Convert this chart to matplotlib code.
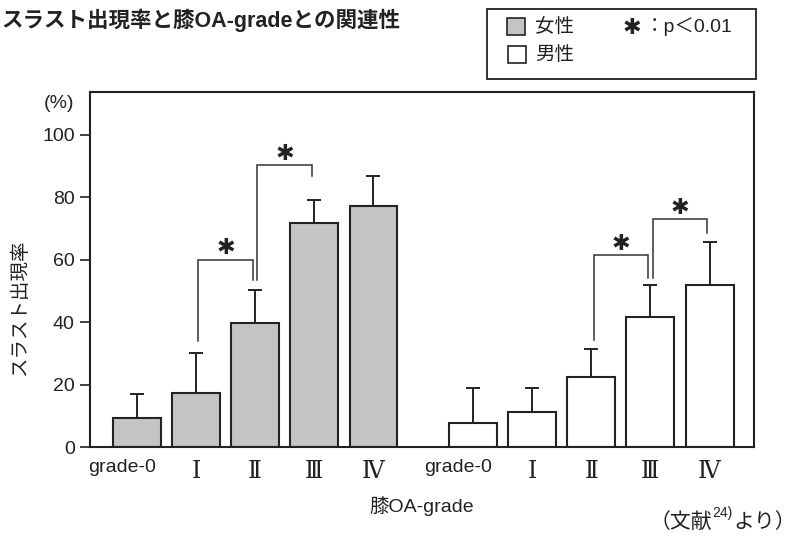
import matplotlib
matplotlib.use('Agg')
import matplotlib.pyplot as plt
from matplotlib.patches import Rectangle
from matplotlib.text import Annotation
import matplotlib.transforms as mtransforms
import numpy as np

plt.rcParams['font.family'] = ['Liberation Sans', 'Noto Sans CJK JP', 'DejaVu Sans']

# ---------------- data ----------------
grades = ['grade-0', 'Ⅰ', 'Ⅱ', 'Ⅲ', 'Ⅳ']
female_rate = [9.3, 17.2, 39.6, 71.9, 77.3]
female_err = [7.7, 12.8, 10.6, 7.3, 9.4]
male_rate = [7.6, 11.1, 22.5, 41.6, 51.8]
male_err = [11.2, 7.7, 8.8, 10.3, 13.7]
# significance brackets: (bar i, bar j, left leg bottom, top, right leg bottom)
female_sig = [(1, 2, 34.0, 60.0, 53.4), (2, 3, 53.4, 90.4, 86.7)]
male_sig = [(2, 3, 34.4, 61.4, 54.2), (3, 4, 54.2, 72.9, 68.5)]
yticks = [0, 20, 40, 60, 80, 100]

W, H = 801, 538
fig = plt.figure(figsize=(W / 100, H / 100), dpi=100)
ax = fig.add_axes([90 / W, 1 - 447 / H, (754 - 90) / W, (447 - 92) / H])

ink = '#222222'
fcol = '#c4c4c4'
STAR = '✱'

fx = np.arange(5)
mx = 5.68 + np.arange(5)
bw = 0.81

ax.bar(fx, female_rate, width=bw, color=fcol, edgecolor=ink, linewidth=1.5, zorder=2)
ax.bar(mx, male_rate, width=bw, color='white', edgecolor=ink, linewidth=1.5, zorder=2)
ax.errorbar(fx, female_rate, yerr=[np.zeros(5), female_err], fmt='none',
            ecolor=ink, elinewidth=1.4, capsize=4.8, capthick=1.4, zorder=1)
ax.errorbar(mx, male_rate, yerr=[np.zeros(5), male_err], fmt='none',
            ecolor=ink, elinewidth=1.4, capsize=4.8, capthick=1.4, zorder=1)

def bracket(xs, sig):
    for i, j, yl, yt, yr in sig:
        x0 = xs[i] + 0.04
        x1 = xs[j] - 0.04
        ax.plot([x0, x0, x1, x1], [yl, yt, yt, yr], color='#333333', lw=1.1,
                solid_joinstyle='miter', zorder=3)
        ax.text((x0 + x1) / 2, yt + 3.6, STAR, ha='center', va='center',
                fontsize=16, color=ink, family=['DejaVu Sans'])

bracket(fx, female_sig)
bracket(mx, male_sig)

ax.set_xlim(-0.79, 10.43)
ax.set_ylim(0, 113.7)
ax.set_yticks(yticks)
ax.set_yticklabels([str(v) for v in yticks], fontsize=14, color=ink)
ax.tick_params(axis='y', direction='out', length=7, width=1.2, color=ink, pad=4)
ax.set_xticks(list(fx) + list(mx))
ax.set_xticklabels(grades + grades, fontsize=14, color=ink)
ax.tick_params(axis='x', length=0, pad=9)
shift = mtransforms.ScaledTranslation(-15 / 100, 0, fig.dpi_scale_trans)
for lab in ax.get_xticklabels():
    if lab.get_text() == 'grade-0':
        lab.set_transform(lab.get_transform() + shift)
    else:
        lab.set_family(['DejaVu Serif', 'Noto Sans CJK JP'])
        lab.set_fontsize(17)
for sp in ax.spines.values():
    sp.set_linewidth(1.5)
    sp.set_color(ink)

# axis texts
fig.text(59 / W, 1 - 104 / H, '(%)', ha='center', va='center', fontsize=14, color=ink)
fig.text(20 / W, 1 - 308 / H, 'スラスト出現率', rotation=90, ha='center', va='center',
         fontsize=14, color=ink)
fig.text(422 / W, 1 - 506 / H, '膝OA-grade', ha='center', va='center', fontsize=14, color=ink)

# source note with superscript reference number
t1 = fig.text(650 / W, 1 - 528 / H, '（文献', ha='left', va='baseline', fontsize=15, color=ink)
t2 = fig.add_artist(Annotation('24)', xy=(1, 0.62), xycoords=t1, ha='left', va='bottom',
                               fontsize=10, color=ink))
t3 = fig.add_artist(Annotation('より）', xy=(1, 0), xycoords=(t2, t1), ha='left', va='bottom',
                               fontsize=15, color=ink))

# title
fig.text(1 / W, 1 - 20 / H, 'スラスト出現率と膝OA-gradeとの関連性', ha='left', va='center',
         fontsize=15.5, fontweight='bold', color=ink)

# legend box
fig.patches.append(Rectangle((487 / W, 1 - 79 / H), (756 - 487) / W, 70 / H,
                             transform=fig.transFigure, fill=False, edgecolor=ink, lw=1.3))
fig.patches.append(Rectangle((507 / W, 1 - 35 / H), 18 / W, 17 / H,
                             transform=fig.transFigure, facecolor=fcol, edgecolor=ink, lw=1.2))
fig.patches.append(Rectangle((508 / W, 1 - 63 / H), 18 / W, 17 / H,
                             transform=fig.transFigure, facecolor='white', edgecolor=ink, lw=1.2))
fig.text(535 / W, 1 - 27 / H, '女性', ha='left', va='center', fontsize=14, color=ink)
fig.text(535 / W, 1 - 55 / H, '男性', ha='left', va='center', fontsize=14, color=ink)
fig.text(632 / W, 1 - 28 / H, STAR, ha='center', va='center', fontsize=16, color=ink,
         family=['DejaVu Sans'])
fig.text(645 / W, 1 - 27 / H, '：p＜0.01', ha='left', va='center', fontsize=14, color=ink,
         family=['Liberation Sans', 'Noto Sans CJK JP'])

fig.savefig('out.png', dpi=100)
